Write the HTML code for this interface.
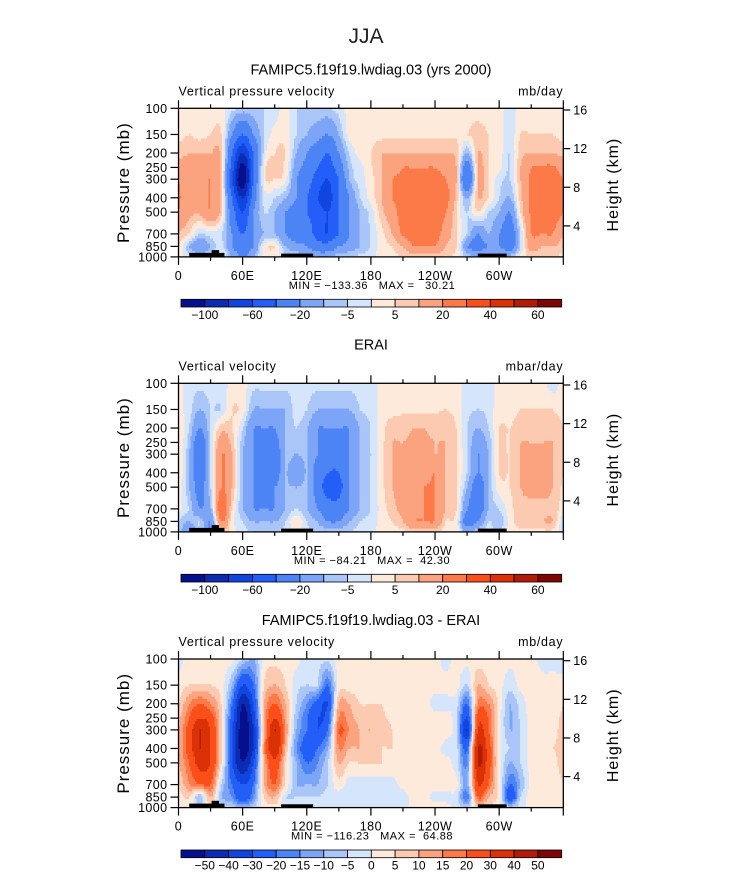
<!DOCTYPE html>
<html><head><meta charset="utf-8">
<style>
html,body{margin:0;padding:0;background:#fff;}
svg{display:block;font-family:"Liberation Sans",sans-serif;}
.pre{white-space:pre;}
</style></head>
<body>
<svg id="chart" width="733" height="888" viewBox="0 0 733 888" xmlns="http://www.w3.org/2000/svg">
<text x="366" y="43" text-anchor="middle" font-size="21" fill="#222">JJA</text>
</svg>
<script>
// ---------- data ----------
const pressureLevels = [100,150,200,250,300,400,500,700,850,1000];
const longitudes = [0,10,20,30,40,50,60,70,80,90,100,110,120,130,140,150,160,170,180,190,200,210,220,230,240,250,260,270,280,290,300,310,320,330,340,350];
const yTickLabels = [100,150,200,250,300,400,500,700,850,1000];
const heightTicks = [4,8,12,16];
const xTickLons = [0,60,120,180,240,300];
const xTickLabels = ["0","60E","120E","180","120W","60W"];
const levelsAbs = [-100,-80,-60,-40,-20,-10,-5,0,5,10,20,30,40,50,60];
const levelsDiff = [-50,-40,-30,-20,-15,-10,-5,0,5,10,15,20,30,40,50];
const labelsAbs = ["-100","","-60","","-20","","-5","","5","","20","","40","","60"];
const labelsDiff = ["-50","-40","-30","-20","-15","-10","-5","0","5","10","15","20","30","40","50"];
const palette = ["#07108c","#0b2cb2","#1046df","#225ef7","#4c84f6","#7da5f7","#aac5f8","#d5e5fb","#feeadb","#fccab0","#fba27e","#fc7a48","#fa4f18","#db3106","#b11c06","#7e0606"];

const modelField = [
[2,3,8,15,20,22,20,10,5,3],[2,5,10,12,12,12,12,5,-10,-3],[2,3,10,12,15,15,12,-5,-20,-5],[2,5,10,15,20,20,20,-3,-10,-3],
[2,5,8,8,8,8,7,-5,-3,2],[-3,-20,-40,-50,-60,-40,-30,-20,-20,-10],[-5,-40,-80,-110,-120,-80,-60,-40,-30,-20],[-5,-20,-40,-40,-40,-30,-20,-20,-20,-10],
[-5,-5,-3,2,2,-3,-5,-10,2,2],[-3,2,5,8,5,-5,-10,-10,5,2],[2,3,5,3,2,-10,-20,-20,-10,-3],[-5,-5,-10,-15,-20,-20,-30,-30,-15,-5],
[-5,-10,-20,-25,-30,-40,-40,-30,-20,-5],[-5,-15,-30,-40,-50,-60,-50,-50,-30,-10],[-5,-20,-40,-50,-60,-70,-60,-60,-30,-10],[-3,-10,-20,-30,-40,-40,-40,-40,-20,-5],
[2,2,-5,-8,-10,-20,-20,-20,-15,-5],[2,2,2,-2,-3,-5,-10,-10,-10,-3],[2,3,5,4,3,2,-3,-5,-5,-2],[2,3,10,10,10,10,8,3,3,2],
[2,4,10,15,20,20,15,10,5,3],[2,4,10,20,22,25,25,22,10,5],[2,4,10,20,25,25,25,25,20,5],[2,4,10,20,25,25,25,25,20,5],
[2,4,10,20,25,25,25,25,20,5],[2,4,10,15,20,25,20,15,10,5],[2,4,8,10,10,8,5,5,5,3],[2,5,-10,-30,-40,-10,-5,-5,-20,-5],
[2,8,10,10,10,10,5,-20,-30,-5],[2,5,5,5,5,5,-5,-10,-20,-5],[2,3,3,2,-3,-5,-10,-20,-20,-5],[-3,-3,-5,-5,-5,-10,-20,-30,-30,-5],
[2,5,8,10,10,8,5,-5,-5,2],[2,5,10,20,22,22,22,20,15,5],[2,5,10,22,25,25,25,20,10,5],[2,5,10,22,25,25,25,20,10,5]
];
const obsField = [
[2,2,5,5,5,5,3,2,-5,-5],[-3,-3,-5,-8,-10,-10,-10,-5,-10,-20],[-3,-10,-20,-30,-30,-30,-25,-20,-5,-5],[-3,-5,-5,-5,-5,-5,-5,-10,-20,-20],
[-3,-5,8,15,20,20,20,30,20,5],[2,5,5,8,10,10,10,5,2,2],[2,3,-5,-8,-10,-10,-10,-10,-5,-3],[-3,-10,-20,-20,-20,-20,-20,-20,-10,-5],
[-3,-10,-20,-25,-25,-30,-20,-20,-10,-5],[-3,-10,-20,-25,-30,-30,-20,-20,-10,-5],[-3,-10,-10,-10,-10,-10,-10,-10,-5,-3],[-3,-3,-5,-8,-10,-20,-10,-5,5,2],
[-3,-5,-10,-10,-10,-10,-10,-10,-5,-3],[-3,-10,-20,-20,-20,-30,-30,-20,-10,-5],[-3,-10,-20,-25,-30,-40,-50,-30,-20,-5],[-3,-10,-20,-25,-30,-40,-50,-30,-20,-5],
[-3,-10,-20,-20,-20,-20,-20,-20,-10,-5],[-3,-5,-10,-10,-10,-10,-10,-10,-5,-3],[-3,-3,-5,-5,-5,-5,-5,-5,-3,-2],[2,2,3,3,3,3,3,2,2,2],
[2,3,8,10,10,10,10,8,5,3],[2,4,8,10,12,12,12,12,10,3],[2,4,10,12,20,15,12,15,20,5],[2,4,10,12,12,15,20,20,20,5],
[2,4,8,10,10,20,20,20,20,5],[2,5,8,10,10,10,10,10,5,3],[2,3,5,5,5,5,5,5,2,2],[-3,-3,-5,-5,-5,-5,-10,-20,-30,-10],
[-3,-5,-10,-15,-20,-20,-30,-30,-20,-5],[-3,-3,-5,-8,-10,-10,-10,-10,-5,-3],[2,3,5,5,5,5,3,-5,-10,-3],[2,3,5,5,5,5,5,3,2,2],
[2,5,8,10,10,10,10,8,8,3],[2,5,8,10,10,10,12,8,10,3],[2,5,8,10,10,10,12,8,10,3],[-3,5,8,10,10,10,10,8,10,3]
];
const diffField = [
[-2,2,5,8,10,10,10,5,3,2],[2,5,15,20,25,25,20,15,5,2],[2,5,20,30,40,40,35,20,-10,-3],[2,5,15,25,30,30,30,20,10,3],
[2,2,5,5,5,5,5,-5,-10,-3],[2,-10,-20,-25,-30,-30,-30,-20,-15,-5],[-5,-30,-50,-55,-55,-55,-50,-30,-30,-10],[-10,-20,-30,-35,-40,-40,-30,-20,-15,-5],
[2,5,10,10,10,15,10,10,5,2],[3,10,20,30,40,40,25,20,10,3],[2,5,10,12,15,10,5,5,-5,-2],[2,-3,-5,-8,-10,-15,-10,-10,-5,-2],
[-3,-5,-15,-20,-20,-25,-20,-10,-5,-2],[-3,-5,-25,-30,-30,-20,-15,-10,-5,-2],[-3,-20,-30,-25,-20,-10,-5,-5,-3,-2],[2,2,10,15,20,15,10,3,-3,-2],
[2,2,10,12,15,10,5,-3,-5,-2],[2,2,5,8,10,10,5,-3,-5,-2],[2,2,5,8,10,8,5,-3,-5,-2],[2,2,5,6,8,5,5,-3,-5,-2],
[2,2,3,4,5,5,3,-2,-5,-2],[2,2,2,3,3,3,2,2,-3,-2],[2,2,2,2,2,2,2,2,2,2],[2,2,2,2,2,2,2,2,2,2],
[2,2,-2,2,2,2,2,2,-2,2],[-2,2,-2,2,2,-2,2,2,-2,2],[2,2,-3,-4,-5,-3,-3,2,-3,-2],[2,-5,-20,-30,-40,-20,-15,-10,-20,-5],
[2,10,15,25,30,40,40,30,20,5],[2,5,15,20,20,25,25,20,10,3],[2,2,3,2,2,2,2,2,2,2],[2,-3,-10,-10,-10,-5,-10,-20,-30,-5],
[2,2,-3,-4,-5,-5,-5,-10,-5,-2],[2,2,2,2,2,2,2,2,2,2],[-2,2,2,2,2,3,2,2,2,2],[-2,2,2,2,2,5,2,2,2,2]
];
const panelTitles = ["FAMIPC5.f19f19.lwdiag.03 (yrs 2000)","ERAI","FAMIPC5.f19f19.lwdiag.03 - ERAI"];
const leftLabels = ["Vertical pressure velocity","Vertical velocity","Vertical pressure velocity"];
const rightLabels = ["mb/day","mbar/day","mb/day"];
const minMaxText = ["MIN = \u2212133.36   MAX =   30.21","MIN = \u221284.21   MAX =  42.30","MIN = \u2212116.23   MAX =  64.88"];
// topography blocks: [lon0, lon1, pressureTop]
const topoBlocks = [[10,43,940],[31,38,900],[96,126,950],[280,307,950]];

// ---------- rendering ----------
const NS="http://www.w3.org/2000/svg";
const svg=document.getElementById('chart');
const X0=178.5, X1=563.3, PW=X1-X0;
function mk(tag,attrs,parent){const e=document.createElementNS(NS,tag);for(const k in attrs)e.setAttribute(k,attrs[k]);(parent||svg).appendChild(e);return e;}
function xScale(lon){return X0+lon/360*PW;}
function yScaleFn(top){const H=148.6;return p=>top+H*(1-Math.log(1000/p)/Math.log(10));}
function classify(v,levels){let i=0;while(i<levels.length&&v>=levels[i])i++;return i;}
const LPS=pressureLevels.map(p=>Math.log(1000/p));
function cr(p0,p1,p2,p3,t){return 0.5*((2*p1)+(-p0+p2)*t+(2*p0-5*p1+4*p2-p3)*t*t+(-p0+3*p1-3*p2+p3)*t*t*t);}
function colAt(field,lon,j){
  const fi=lon/10, b=Math.floor(fi), s=fi-b;
  const g=i=>field[((i%36)+36)%36][j];
  return cr(g(b-1),g(b),g(b+1),g(b+2),s);
}
function sample(field,lon,lp){
  let j=0;while(j<LPS.length-2&&lp<LPS[j+1])j++;
  let t=(LPS[j]-lp)/(LPS[j]-LPS[j+1]);t=Math.max(0,Math.min(1,t));
  const a=colAt(field,lon,j), b=colAt(field,lon,j+1);
  return a*(1-t)+b*t;
}
const panels=[{top:108.3,field:modelField,levels:levelsAbs,labels:labelsAbs},
              {top:383.3,field:obsField,levels:levelsAbs,labels:labelsAbs},
              {top:659,field:diffField,levels:levelsDiff,labels:labelsDiff}];
panels.forEach((P,k)=>{
  const top=P.top, yS=yScaleFn(top), bot=yS(1000);
  const g=mk('g',{});
  
  
  const t1=mk('text',{x:371,y:top-34,'text-anchor':'middle','font-size':14.5,fill:'#000'},g);t1.textContent=panelTitles[k];
  
  
  const t2=mk('text',{x:X0,y:top-13,'font-size':12.5,fill:'#000','letter-spacing':'0.7'},g);t2.textContent=leftLabels[k];
  
  
  const t3=mk('text',{x:X1,y:top-13,'text-anchor':'end','font-size':12.5,fill:'#000','letter-spacing':'0.7'},g);t3.textContent=rightLabels[k];
  
  
  // field
  const fg=mk('g',{'shape-rendering':'crispEdges'},g);
  
  
  const step=2.5, ny=Math.ceil((bot-top)/step), nx=Math.ceil(PW/1.5);
  const lpTop=Math.log(10);
  for(let r=0;r<ny;r++){
    const y=top+r*step, yc=y+step/2;
    const lp=lpTop*(1-(yc-top)/(bot-top));
    let runStart=0, runC=-1;
    for(let c=0;c<=nx;c++){
      let cls=-2;
      if(c<nx){const xc=X0+(c+0.5)*PW/nx;const lon=(xc-X0)/PW*360;cls=classify(sample(P.field,lon,lp),P.levels);}
      if(cls!==runC){
        if(runC>=0){const xa=X0+runStart*PW/nx,xb=X0+c*PW/nx;
          const rc=mk('rect',{x:xa.toFixed(2),y:y.toFixed(2),width:(xb-xa+0.3).toFixed(2),height:Math.min(step+0.3,bot-y).toFixed(2),fill:palette[runC]},fg);
          
          }
        runStart=c;runC=cls;
      }
    }
  }
  // topography
  topoBlocks.forEach(b=>{const r=mk('rect',{x:xScale(b[0]),y:yS(b[2]),width:xScale(b[1])-xScale(b[0]),height:bot-yS(b[2]),fill:'#000'},g);
    
    });
  // frame
  const fr=mk('rect',{x:X0,y:top,width:PW,height:bot-top,fill:'none',stroke:'#000','stroke-width':1.3},g);
  
  
  // y ticks
  yTickLabels.forEach(p=>{const y=yS(p);mk('line',{x1:X0-8,x2:X0,y1:y,y2:y,stroke:'#000','stroke-width':1.2},g);
    const tl=mk('text',{x:X0-11,y:y+4.5,'text-anchor':'end','font-size':12.5,fill:'#000','letter-spacing':'0.4'},g);tl.textContent=p;
    
    });
  // height ticks
  heightTicks.forEach(h=>{const y=top+1.7+(16-h)*(bot-top-1.7-31)/12;mk('line',{x1:X1,x2:X1+7,y1:y,y2:y,stroke:'#000','stroke-width':1.2},g);
    const tl=mk('text',{x:X1+10,y:y+4.5,'font-size':12.5,fill:'#000'},g);tl.textContent=h;
    
    });
  // x ticks
  for(let lon=0;lon<=360;lon+=30){const x=xScale(lon);const L=lon%60===0?8:4;
    mk('line',{x1:x,x2:x,y1:bot,y2:bot+L,stroke:'#000','stroke-width':1.2},g);
    mk('line',{x1:x,x2:x,y1:top,y2:top-L,stroke:'#000','stroke-width':1.2},g);}
  xTickLons.forEach((lon,i)=>{const tl=mk('text',{x:xScale(lon),y:bot+23,'text-anchor':'middle','font-size':12.5,fill:'#000','letter-spacing':'0.5'},g);tl.textContent=xTickLabels[i];
    
    });
  const mm=mk('text',{x:372,y:bot+32,'text-anchor':'middle','font-size':11,fill:'#000','class':'pre','letter-spacing':'0.5'},g);mm.textContent=minMaxText[k];
  
  
  // axis titles
  const cy=(top+bot)/2;
  const ya=mk('text',{x:0,y:0,transform:`translate(129,${cy}) rotate(-90)`,'text-anchor':'middle','font-size':17,fill:'#000','letter-spacing':'1'},g);ya.textContent="Pressure (mb)";
  
  
  const ha=mk('text',{x:0,y:0,transform:`translate(618,${cy+2}) rotate(-90)`,'text-anchor':'middle','font-size':16,fill:'#000','letter-spacing':'1'},g);ha.textContent="Height (km)";
  
  
  // colorbar
  const cb=mk('g',{},g);
  
  
  const cx0=181,cx1=561.7,cw=(cx1-cx0)/16,cyt=top+191,ch=7.7;
  palette.forEach((col,i)=>{const r=mk('rect',{x:cx0+i*cw,y:cyt,width:cw,height:ch,fill:col,stroke:'#000','stroke-width':0.8},cb);
    
    });
  P.labels.forEach((lab,i)=>{if(!lab)return;const tl=mk('text',{x:cx0+(i+1)*cw,y:cyt+ch+12,'text-anchor':'middle','font-size':12,fill:'#000'},cb);tl.textContent=lab.replace('-','\u2212');
    
    });
});
</script>
</body></html>
